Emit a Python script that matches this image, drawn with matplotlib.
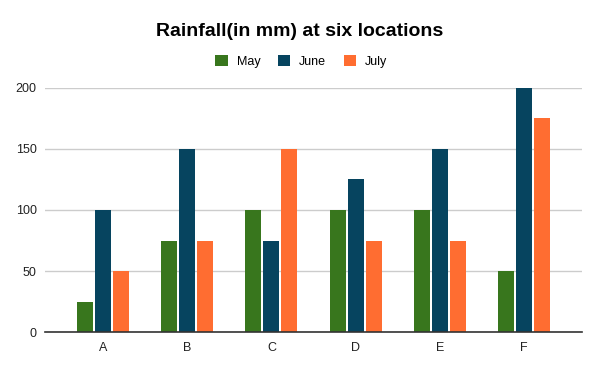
import numpy as np
import matplotlib.pyplot as plt
from matplotlib.patches import Patch

# Rainfall data
locations = ['A', 'B', 'C', 'D', 'E', 'F']
may = [25, 75, 100, 100, 100, 50]
june = [100, 150, 75, 125, 150, 200]
july = [50, 75, 150, 75, 75, 175]

series_names = ['May', 'June', 'July']
colors = ['#38761d', '#06445f', '#ff6d31']

plt.rcParams['font.family'] = ['Liberation Sans', 'DejaVu Sans']

fig = plt.figure(figsize=(6, 3.71), dpi=100)
ax = fig.add_axes([0.075, 0.105, 0.895, 0.658])

x = np.arange(len(locations))
width = 0.19
step = 0.214
for i, (vals, c) in enumerate(zip([may, june, july], colors)):
    ax.bar(x + (i - 1) * step, vals, width, color=c, zorder=3)

ax.set_xlim(-0.69, 5.69)
ax.set_ylim(0, 200)
ax.set_yticks([0, 50, 100, 150, 200])
ax.set_xticks(x)
ax.set_xticklabels(locations)
ax.grid(axis='y', color='#cccccc', linewidth=1, zorder=0)
for s in ['top', 'right', 'left']:
    ax.spines[s].set_visible(False)
ax.spines['bottom'].set_color('#333333')
ax.spines['bottom'].set_linewidth(1.2)
ax.spines['bottom'].set_zorder(4)
ax.tick_params(axis='both', length=0, labelsize=9, labelcolor='#222222')
ax.tick_params(axis='y', pad=6)
ax.tick_params(axis='x', pad=7)

fig.text(0.5, 0.915, 'Rainfall(in mm) at six locations', ha='center', va='center',
         fontsize=14, fontweight='bold', color='#000000')

handles = [Patch(facecolor=c, label=n) for n, c in zip(series_names, colors)]
fig.legend(handles=handles, loc='center', bbox_to_anchor=(0.502, 0.835), ncol=3,
           frameon=False, fontsize=9, handlelength=1.0, handleheight=1.0,
           handletextpad=0.7, columnspacing=1.4)

fig.savefig('out.png', dpi=100)
